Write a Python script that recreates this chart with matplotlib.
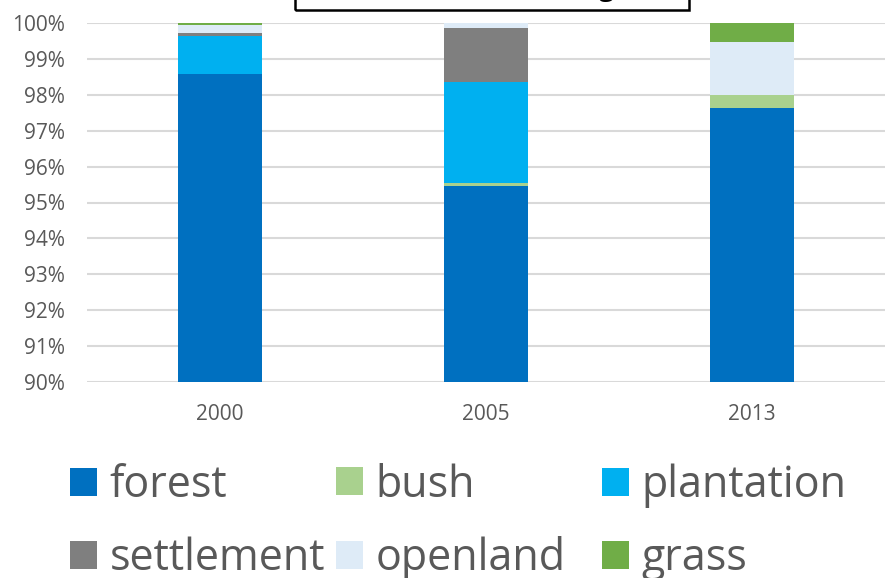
import numpy as np
import matplotlib
matplotlib.use("Agg")
import matplotlib.pyplot as plt
from matplotlib.patches import Rectangle
from matplotlib.ticker import FuncFormatter

# share of each land cover class per year (percent)
years = ["2000", "2005", "2013"]
classes = ["forest", "bush", "plantation", "settlement", "openland", "grass"]
forest = [98.58, 95.46, 97.64]
bush = [0.00, 0.07, 0.35]
plantation = [1.07, 2.83, 0.00]
settlement = [0.06, 1.50, 0.00]
openland = [0.24, 0.14, 1.47]
grass = [0.05, 0.00, 0.54]
colors = ["#0070C0", "#A9D18E", "#00B0F0", "#7F7F7F", "#DEEBF7", "#70AD47"]

plt.rcParams["font.family"] = ["Open Sans", "DejaVu Sans"]
grey = "#595959"

fig = plt.figure(figsize=(8.85, 5.78), dpi=100)
ax = fig.add_axes([87 / 885, 1 - 382 / 578, 1 - 87 / 885, (382 - 23) / 578])

x = np.arange(len(years))
series = [forest, bush, plantation, settlement, openland, grass]
bottom = np.zeros(len(years))
for name, vals, col in zip(classes, series, colors):
    vals = np.array(vals)
    ax.bar(x, vals, 0.315, bottom=bottom, color=col, label=name, zorder=2)
    bottom += vals

ax.set_ylim(90, 100)
ax.set_xlim(-0.5, 2.5)
ax.set_yticks(np.arange(90, 101, 1))
ax.yaxis.set_major_formatter(FuncFormatter(lambda v, p: "%d%%" % v))
ax.set_xticks(x)
ax.set_xticklabels(years)
ax.grid(axis="y", color="#d9d9d9", lw=1.5, zorder=0)
ax.tick_params(length=0, labelsize=15, labelcolor=grey)
ax.tick_params(axis="y", pad=16)
ax.tick_params(axis="x", pad=16)
for s in ax.spines.values():
    s.set_visible(False)

# title box, mostly above the top edge
fig.add_artist(Rectangle((295 / 885, 1 - 9.5 / 578), (689 - 295) / 885, 0.1,
                         transform=fig.transFigure, fill=False, ec="black",
                         lw=1.8, clip_on=False))
fig.text(0.573, 1 + 4 / 578, "Land cover change", ha="center", va="baseline",
         fontsize=19, fontweight="bold", color="black")

# legend: one column per pair, laid out row by row
handles, labels = ax.get_legend_handles_labels()
col_x = [70 / 885, 336 / 885, 602 / 885]
for i, cx in enumerate(col_x):
    pair = [i, i + 3]
    leg = fig.legend([handles[j] for j in pair], [labels[j] for j in pair],
                     loc="center left", bbox_to_anchor=(cx, 1 - 522 / 578),
                     frameon=False, fontsize=31, labelcolor=grey,
                     handlelength=0.62, handleheight=0.62, handletextpad=0.3,
                     labelspacing=0.66, borderpad=0, borderaxespad=0)

fig.savefig("out.png", dpi=100)
